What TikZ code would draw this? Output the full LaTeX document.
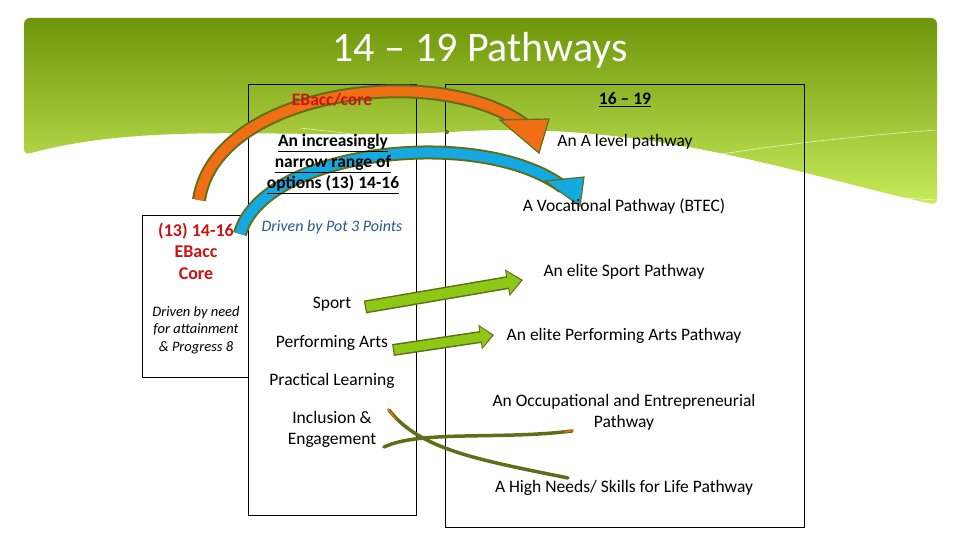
\documentclass[tikz,border=0pt]{standalone}
\usepackage{fontspec}
\setmainfont{Carlito}
\usetikzlibrary{arrows.meta}
\definecolor{gdark}{RGB}{110,150,10}
\definecolor{glight}{RGB}{200,235,90}
\definecolor{olive}{RGB}{95,110,25}
\definecolor{aorange}{RGB}{240,110,20}
\definecolor{ablue}{RGB}{20,170,225}
\definecolor{agreen}{RGB}{140,200,20}
\definecolor{tred}{RGB}{200,20,20}
\definecolor{tblue}{RGB}{40,90,140}
\tikzset{
  box/.style={draw=black,line width=0.6pt},
  txt/.style={align=center,font=\fontsize{17.5}{21}\selectfont,inner sep=0pt},
  btxt/.style={txt,font=\fontsize{17.5}{21}\selectfont\bfseries},
}
\begin{document}
\begin{tikzpicture}[x=1pt,y=-1pt]
\useasboundingbox (0,0) rectangle (960,540);
\fill[white] (0,0) rectangle (960,540);
% banner
\shade[top color=gdark,bottom color=glight,rounded corners=6]
  (24,18) -- (937,18) -- (937,205) .. controls (800,175) and (650,120) .. (450,132)
  .. controls (300,140) and (150,120) .. (24,155) -- cycle;
\draw[white,line width=0.6pt,opacity=0.7] (500,200) .. controls (650,160) and (800,140) .. (937,130);
\draw[white,line width=0.6pt,opacity=0.7] (300,128) .. controls (500,150) and (750,190) .. (937,200);
\node[font=\fontsize{42}{46}\selectfont,text=white] (title) at (480,50) {14 – 19 Pathways};
% boxes
\draw[box] (142,215) rectangle (248,377);
\draw[box] (248,84) rectangle (416,515);
\draw[box] (445,84) rectangle (804,527);
% curved arrows
\coordinate (ot) at (199,200); \coordinate (oe) at (526,126);
\draw[olive,line width=14pt] (ot) .. controls (215,90) and (440,60) .. (oe);
\draw[aorange,line width=10pt] (ot) .. controls (215,90) and (440,60) .. (oe);
\filldraw[fill=aorange,draw=olive,line width=1.2pt] (500,120) -- (549,119) -- (539,153) -- cycle;
\coordinate (bt) at (240,234); \coordinate (be) at (563,187);
\draw[olive,line width=14pt] (bt) .. controls (262,150) and (480,125) .. (be);
\draw[ablue,line width=10pt] (bt) .. controls (262,150) and (480,125) .. (be);
\filldraw[fill=ablue,draw=olive,line width=1.2pt] (545,181) -- (584,177) -- (580,206) -- cycle;
\fill[olive] (447,132) circle (2);
% straight green arrows
\coordinate (s1) at (365,307); \coordinate (s2) at (523,280);
\draw[-{Triangle[length=16pt,width=26pt]},olive,line width=13pt] (s1) -- (s2);
\draw[-{Triangle[length=13pt,width=22pt]},agreen,line width=10pt,shorten >=2pt,shorten <=1.2pt] (s1) -- (s2);
\coordinate (p1) at (393,350); \coordinate (p2) at (494,335);
\draw[-{Triangle[length=14pt,width=24pt]},olive,line width=12pt] (p1) -- (p2);
\draw[-{Triangle[length=11pt,width=20pt]},agreen,line width=9pt,shorten >=2pt,shorten <=1.2pt] (p1) -- (p2);
% bottom thin arrows
\draw[olive,line width=3.5pt,line cap=round] (389,410) .. controls (420,450) and (480,460) .. (568,478);
\draw[aorange,line width=1.5pt,line cap=round] (388,409) -- (396,420);
\draw[olive,line width=3.5pt,line cap=round] (384,447) .. controls (420,430) and (500,440) .. (572,431);
\draw[aorange,line width=1.5pt,line cap=round] (565,432) -- (573,430);
% texts
\node[btxt,text=tred] (eb) at (332,100) {EBacc/core};
\node[btxt] (narrow) at (333,164) {\underline{An increasingly}\\ \underline{narrow range of}\\ \underline{options (13) 14-16}};
\node[txt,font=\fontsize{16}{18}\selectfont\itshape,text=tblue] (pot) at (332,227) {Driven by Pot 3 Points};
\node[txt] (sport) at (332,304) {Sport};
\node[txt] (pa) at (332,343) {Performing Arts};
\node[txt] (pl) at (332,381) {Practical Learning};
\node[txt] (inc) at (332,429) {Inclusion \&\\Engagement};
\node[btxt,text=tred,font=\fontsize{18}{21.5}\selectfont\bfseries] (left) at (196,251) {(13) 14-16\\EBacc\\Core};
\node[txt,font=\fontsize{14.5}{17.5}\selectfont\itshape] (need) at (196,330) {Driven by need\\for attainment\\\& Progress 8};
\node[btxt] (h1619) at (625,100) {\underline{16 – 19}};
\node[txt] (r1) at (625,142) {An A level pathway};
\node[txt] (r2) at (624,207) {A Vocational Pathway (BTEC)};
\node[txt] (r3) at (624,272) {An elite Sport Pathway};
\node[txt] (r4) at (624,336) {An elite Performing Arts Pathway};
\node[txt] (r5) at (624,412) {An Occupational and Entrepreneurial\\Pathway};
\node[txt] (r6) at (624,488) {A High Needs/ Skills for Life Pathway};
\end{tikzpicture}
\end{document}
